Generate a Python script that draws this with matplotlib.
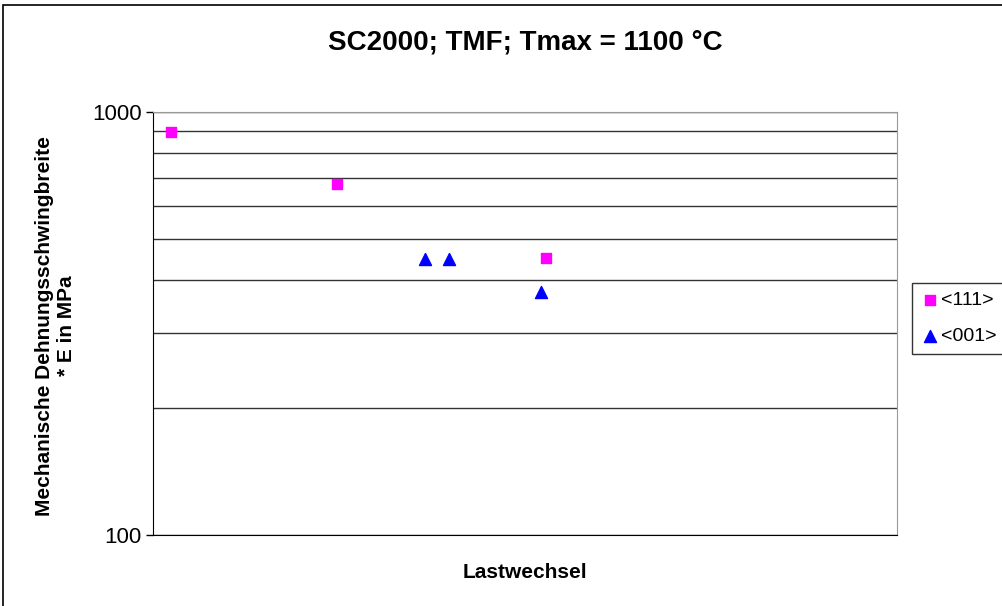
import matplotlib.pyplot as plt
from matplotlib.patches import Rectangle
from matplotlib.ticker import FixedLocator, NullFormatter, NullLocator

plt.rcParams['font.family'] = ['Liberation Sans', 'DejaVu Sans']

# Lastwechsel (Achse ohne Beschriftung) und Dehnungsschwingbreite * E in MPa
n_111 = [240, 2470, 5280]
s_111 = [897, 675, 452]
n_001 = [3660, 3980, 5220]
s_001 = [449, 449, 375]

fig = plt.figure(figsize=(10.02, 6.06), dpi=100)
ax = fig.add_axes([0.1527, 0.1172, 0.7425, 0.698])

# Rahmen des Diagrammbereichs
fig.patches.append(Rectangle((3 / 1002, -0.1), 1.2, 1 - 5 / 606 + 0.1,
                             transform=fig.transFigure, fill=False,
                             edgecolor='black', linewidth=1.2))

ax.scatter(n_111, s_111, marker='s', s=60, color='#ff00ff', label='<111>', zorder=3)
ax.scatter(n_001, s_001, marker='^', s=75, color='#0000ff', label='<001>', zorder=3)

ax.set_yscale('log')
ax.set_ylim(100, 1000)
ax.set_xlim(0, 10000)
ax.set_yticks([100, 1000])
ax.set_yticklabels(['100', '1000'], fontsize=16)
ax.yaxis.set_minor_locator(FixedLocator([200, 300, 400, 500, 600, 700, 800, 900]))
ax.yaxis.set_minor_formatter(NullFormatter())
ax.tick_params(axis='y', which='minor', length=0)
ax.tick_params(axis='y', which='major', length=5, width=1, pad=3)
ax.xaxis.set_major_locator(NullLocator())

ax.grid(True, axis='y', which='both', color='#333333', linewidth=1)
ax.set_axisbelow(True)
ax.spines['left'].set_color('black')
ax.spines['bottom'].set_color('black')
ax.spines['right'].set_color('#999999')
ax.spines['top'].set_color('#999999')

fig.text(0.524, 1 - 42 / 606, 'SC2000; TMF; Tmax = 1100 °C', fontsize=20,
         fontweight='bold', ha='center', va='center')
fig.text(0.524, 1 - 572 / 606, 'Lastwechsel', fontsize=15, fontweight='bold',
         ha='center', va='center')
fig.text(56 / 1002, 1 - 326 / 606, 'Mechanische Dehnungsschwingbreite\n* E in MPa',
         fontsize=15, fontweight='bold', rotation=90, ha='center', va='center',
         multialignment='center', linespacing=1.2)

leg = fig.legend(loc='upper left', bbox_to_anchor=(912 / 1002, 1 - 283 / 606),
                 frameon=True, fancybox=False, edgecolor='black', fontsize=14,
                 handletextpad=0.05, handlelength=1.0, borderpad=0.45,
                 labelspacing=0.95, borderaxespad=0)
leg.get_frame().set_linewidth(1)

plt.savefig('out.png', dpi=100)
